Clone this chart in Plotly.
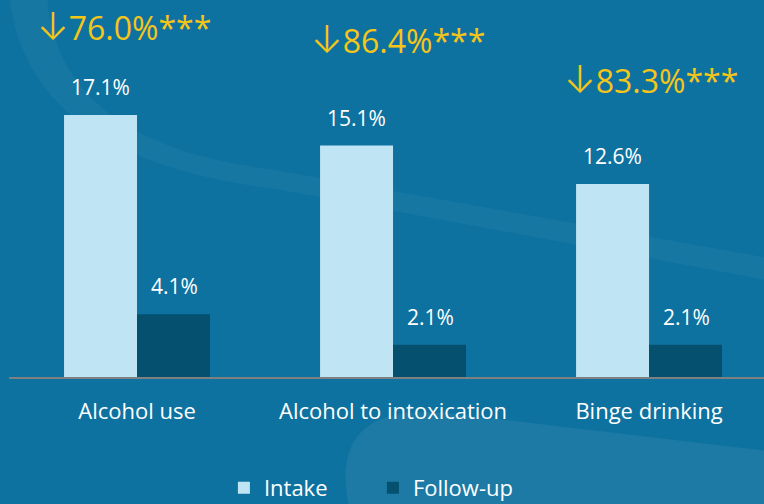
import plotly.graph_objects as go

categories = ["Alcohol use", "Alcohol to intoxication", "Binge drinking"]
intake = [17.1, 15.1, 12.6]
follow_up = [4.1, 2.1, 2.1]
reductions = ["76.0%***", "86.4%***", "83.3%***"]

FONT = "Open Sans"
C_INTAKE = "#bfe5f5"
C_FOLLOW = "#04506e"
YELLOW = "#f5c518"

fig = go.Figure()
fig.add_trace(go.Bar(name="Intake", x=categories, y=intake, marker_color=C_INTAKE,
                     marker_line_width=0))
fig.add_trace(go.Bar(name="Follow-up", x=categories, y=follow_up, marker_color=C_FOLLOW,
                     marker_line_width=0))

# value labels
for c, v in zip(categories, intake):
    fig.add_annotation(x=c, y=v, text=f"{v:.1f}%", showarrow=False, xshift=-37,
                       yanchor="bottom", yshift=12, font=dict(family=FONT, size=21, color="white"))
for c, v in zip(categories, follow_up):
    fig.add_annotation(x=c, y=v, text=f"{v:.1f}%", showarrow=False, xshift=37,
                       yanchor="bottom", yshift=12, font=dict(family=FONT, size=21, color="white"))

# reduction labels
red_shift_x = [-13, 5, 2]
red_shift_y = [64, 82, 80]
for c, v, r, sx, sy in zip(categories, intake, reductions, red_shift_x, red_shift_y):
    txt = f'<span style="font-family:Inter;font-size:38px;font-weight:300">↓</span>{r}'
    fig.add_annotation(x=c, y=v, text=txt, showarrow=False, xshift=sx, yanchor="bottom",
                       yshift=sy, font=dict(family=FONT, size=32, color=YELLOW))

# subtle background swooshes
fig.add_shape(type="path", xref="paper", yref="paper",
              path="M 0.05 1.02 Q 0.06 0.62 0.35 0.55 L 1.05 0.3 L 1.05 0.24 L 0.35 0.5 Q 0.02 0.58 0.0 1.02 Z",
              fillcolor="rgba(255,255,255,0.04)", line_width=0, layer="below")
fig.add_shape(type="path", xref="paper", yref="paper",
              path="M 0.45 -0.34 Q 0.42 -0.05 0.6 -0.1 L 1.02 -0.2 L 1.02 -0.34 Z",
              fillcolor="rgba(255,255,255,0.06)", line_width=0, layer="below")

fig.update_layout(
    width=764, height=504,
    margin=dict(l=9, r=0, t=0, b=127, autoexpand=False),
    paper_bgcolor="#0e72a0",
    plot_bgcolor="rgba(0,0,0,0)",
    barmode="group", bargap=0.43, bargroupgap=0,
    showlegend=True,
    legend=dict(orientation="h", x=0.482, xanchor="center", y=-0.294, yanchor="middle",
                font=dict(family=FONT, size=22, color="white"), bgcolor="rgba(0,0,0,0)",
                itemwidth=30, entrywidth=104),
    font=dict(family=FONT, color="white"),
)
fig.update_xaxes(range=[-0.5, 2.449], showline=True, linecolor="#808080", linewidth=2,
                 showgrid=False, zeroline=False, ticks="", ticklabelstandoff=14,
                 tickfont=dict(family=FONT, size=22, color="white"), fixedrange=True)
fig.update_yaxes(range=[0, 24.6], visible=False, showgrid=False, zeroline=False, fixedrange=True)

fig.write_html("out.html", config={"displayModeBar": False},
               post_script="document.body.style.margin='0';document.body.style.overflow='hidden';")
